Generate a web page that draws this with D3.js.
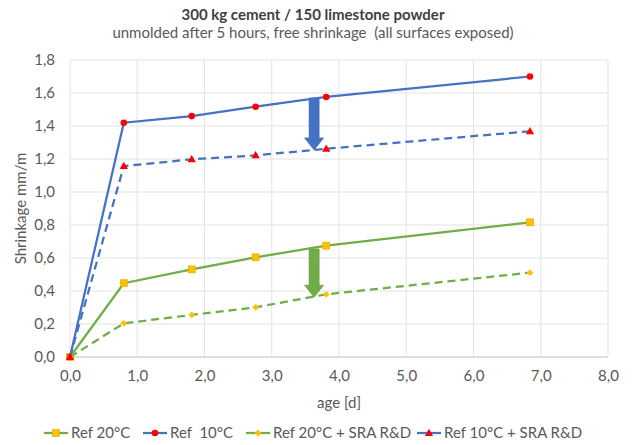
<!DOCTYPE html>
<html>
<head>
<meta charset="utf-8">
<script src="https://cdn.jsdelivr.net/npm/d3@7"></script>
<style>
  body { margin: 0; background: #fff; }
  text { font-family: Lato, "Open Sans", sans-serif; fill: #595959; white-space: pre; }
</style>
</head>
<body>
<svg id="chart" width="632" height="445"></svg>
<script>
// chart values
var ages = [0, 0.80, 1.81, 2.76, 3.81, 6.84];
var ref20 = [0, 0.447, 0.531, 0.604, 0.675, 0.816];
var ref10 = [0, 1.42, 1.46, 1.517, 1.576, 1.70];
var ref20sra = [0, 0.204, 0.255, 0.301, 0.38, 0.511];
var ref10sra = [0, 1.157, 1.198, 1.222, 1.262, 1.368];
var seriesNames = ["Ref 20°C", "Ref  10°C", "Ref 20°C + SRA R&D", "Ref 10°C + SRA R&D"];
var xTicks = [0, 1, 2, 3, 4, 5, 6, 7, 8];
var yTicks = [0, 0.2, 0.4, 0.6, 0.8, 1.0, 1.2, 1.4, 1.6, 1.8];
// block arrows: age, from, to
var arrowsData = [
  { x: 3.63, from: 1.57, to: 1.255, color: "#4472C4" },
  { x: 3.63, from: 0.655, to: 0.362, color: "#70AD47" }
];

var blue = "#4472C4", green = "#70AD47";
var series = [
  { name: seriesNames[0], values: ref20, color: green, dash: null, marker: "square" },
  { name: seriesNames[1], values: ref10, color: blue, dash: null, marker: "circle" },
  { name: seriesNames[2], values: ref20sra, color: green, dash: "8,5", marker: "diamond" },
  { name: seriesNames[3], values: ref10sra, color: blue, dash: "8,5", marker: "triangle" }
];

var svg = d3.select("#chart");
var fmt = function(v) { return d3.format(".1f")(v).replace(".", ","); };
var fs = "15px";

var x = d3.scaleLinear().domain([0, 8]).range([70, 608]);
var y = d3.scaleLinear().domain([0, 1.8]).range([357, 60]);

// titles
svg.append("text").attr("x", 313).attr("y", 20).attr("text-anchor", "middle")
  .style("font-size", fs).style("font-weight", "bold").style("fill", "#404040")
  .text("300 kg cement / 150 limestone powder");
svg.append("text").attr("x", 313).attr("y", 38).attr("text-anchor", "middle")
  .style("font-size", fs)
  .text("unmolded after 5 hours, free shrinkage  (all surfaces exposed)");

// gridlines
svg.append("g").selectAll("line").data(yTicks).enter().append("line")
  .attr("x1", x(0)).attr("x2", x(8))
  .attr("y1", function(d) { return y(d); }).attr("y2", function(d) { return y(d); })
  .attr("stroke", function(d) { return d == 0 ? "#bfbfbf" : "#e3e3e3"; }).attr("stroke-width", 1);
svg.append("g").selectAll("line").data(xTicks).enter().append("line")
  .attr("y1", y(0)).attr("y2", y(1.8))
  .attr("x1", function(d) { return x(d); }).attr("x2", function(d) { return x(d); })
  .attr("stroke", "#e3e3e3").attr("stroke-width", 1);

// axes (labels only)
var xAxis = svg.append("g").attr("transform", "translate(0," + (y(0) + 4) + ")")
  .call(d3.axisBottom(x).tickValues(xTicks).tickFormat(fmt).tickSize(0).tickPadding(9));
var yAxis = svg.append("g").attr("transform", "translate(" + x(0) + ",0)")
  .call(d3.axisLeft(y).tickValues(yTicks).tickFormat(fmt).tickSize(0).tickPadding(15));
[xAxis, yAxis].forEach(function(a) {
  a.select(".domain").remove();
  a.selectAll("text").style("font-size", fs).style("fill", "#595959")
    .style("font-family", "Lato, sans-serif");
});

svg.append("text").attr("x", x(4)).attr("y", 408).attr("text-anchor", "middle")
  .style("font-size", fs).text("age [d]");
svg.append("text").attr("transform", "translate(26," + y(0.9) + ") rotate(-90)")
  .attr("text-anchor", "middle").style("font-size", fs).text("Shrinkage mm/m");

// markers
function drawMarker(g, type, cx, cy) {
  if (type == "square") {
    g.append("rect").attr("x", cx - 3.5).attr("y", cy - 3.5).attr("width", 7).attr("height", 7)
      .attr("fill", "#FFC000").attr("stroke", "#E0A800").attr("stroke-width", 0.6);
  } else if (type == "circle") {
    g.append("circle").attr("cx", cx).attr("cy", cy).attr("r", 3.3).attr("fill", "#FF0000");
  } else if (type == "diamond") {
    g.append("rect").attr("x", -2.4).attr("y", -2.4).attr("width", 4.8).attr("height", 4.8)
      .attr("transform", "translate(" + cx + "," + cy + ") rotate(45)")
      .attr("fill", "#FFC000");
  } else {
    g.append("path").attr("d", d3.symbol(d3.symbolTriangle, 30)()).attr("transform", "translate(" + cx + "," + (cy + 0.5) + ")")
      .attr("fill", "#FF0000");
  }
}

var line = d3.line().x(function(d, i) { return x(ages[i]); }).y(function(d) { return y(d); });

// arrows
arrowsData.forEach(function(a) {
  var cx = x(a.x), top = y(a.from), tip = y(a.to), headH = 12, shaftW = 5, headW = 9.5;
  var pts = [[cx - shaftW, top], [cx + shaftW, top], [cx + shaftW, tip - headH], [cx + headW, tip - headH],
    [cx, tip], [cx - headW, tip - headH], [cx - shaftW, tip - headH]];
  svg.append("path").attr("d", "M" + pts.join("L") + "Z")
    .attr("fill", a.color).attr("stroke", d3.color(a.color).darker(0.5)).attr("stroke-width", 0.6);
});

series.forEach(function(s) {
  var g = svg.append("g");
  g.append("path").datum(s.values).attr("d", line).attr("fill", "none")
    .attr("stroke", s.color).attr("stroke-width", 2.25)
    .attr("stroke-dasharray", s.dash);
  s.values.forEach(function(v, i) { drawMarker(g, s.marker, x(ages[i]), y(v)); });
});

// legend
var legX = [44, 143, 246, 417];
var leg = svg.append("g");
series.forEach(function(s, i) {
  var lx = legX[i], ly = 433;
  leg.append("line").attr("x1", lx).attr("x2", lx + 24).attr("y1", ly).attr("y2", ly)
    .attr("stroke", s.color).attr("stroke-width", 2.25);
  drawMarker(leg, s.marker, lx + 12, ly);
  leg.append("text").attr("x", lx + 27).attr("y", ly + 5).style("font-size", fs)
    .text(s.name);
});
</script>
</body>
</html>
